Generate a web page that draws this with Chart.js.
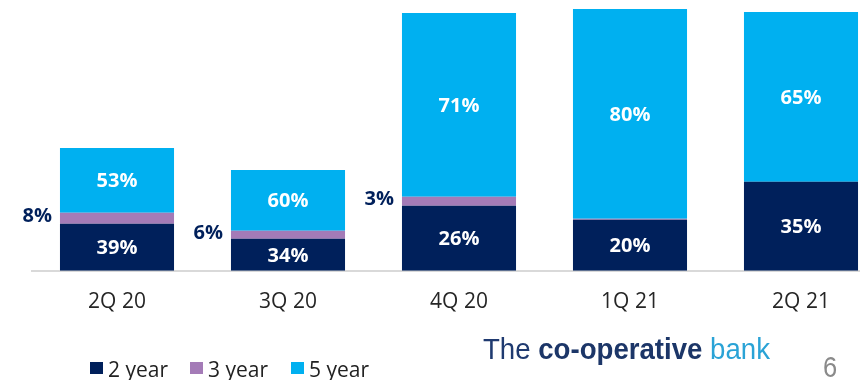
<!DOCTYPE html>
<html>
<head>
<meta charset="utf-8">
<script src="https://cdn.jsdelivr.net/npm/chart.js@4"></script>
<style>
  html, body { margin: 0; padding: 0; background: #fff; overflow: hidden; }
  #wrap { position: relative; width: 860px; height: 380px; overflow: hidden; }
  #chart { position: absolute; left: 0; top: 0; }
</style>
</head>
<body>
<div id="wrap">
  <canvas id="chart" width="900" height="380" style="width:900px;height:380px"></canvas>
</div>
<script>
// quarters along the bottom
const quarters = ["2Q 20", "3Q 20", "4Q 20", "1Q 21", "2Q 21"];

// segment sizes (same units for all bars)
const twoYear = [47, 32, 65, 51, 89];
const threeYear = [11, 8, 9, 1, 0];
const fiveYear = [65, 61, 184, 210, 170];

// share labels printed on the bars
const twoYearLabels = ["39%", "34%", "26%", "20%", "35%"];
const threeYearLabels = ["8%", "6%", "3%", "", ""];
const fiveYearLabels = ["53%", "60%", "71%", "80%", "65%"];

const NAVY = "#00205B";
const PURPLE = "#A47BB7";
const CYAN = "#00B0F0";

// labels inside bars (white) and the 3 year share outside on the left
const barLabels = {
    id: "barLabels",
    afterDatasetsDraw(chart) {
        const ctx = chart.ctx;
        ctx.save();
        ctx.font = 'bold 20px "Open Sans", sans-serif';
        ctx.textBaseline = "middle";
        chart.data.datasets.forEach(function (ds, di) {
            const meta = chart.getDatasetMeta(di);
            meta.data.forEach(function (bar, i) {
                const txt = ds.shareLabels[i];
                if (!txt) return;
                const cy = (bar.y + bar.base) / 2;
                if (di === 1) {
                    ctx.fillStyle = NAVY;
                    ctx.textAlign = "right";
                    ctx.fillText(txt, bar.x - bar.width / 2 - 8, cy - 2);
                } else {
                    ctx.fillStyle = "#fff";
                    ctx.textAlign = "center";
                    ctx.fillText(txt, bar.x, cy + 1);
                }
            });
        });
        ctx.restore();
    }
};

// legend, logo and page number along the bottom edge
const footer = {
    id: "footer",
    afterDraw(chart) {
        const ctx = chart.ctx;
        ctx.save();
        ctx.textBaseline = "alphabetic";
        ctx.textAlign = "left";
        const legendX = [90, 190, 291];
        ctx.font = '21px "Open Sans", sans-serif';
        chart.data.datasets.forEach(function (ds, di) {
            ctx.fillStyle = ds.backgroundColor;
            ctx.fillRect(legendX[di], 362, 13, 12);
            ctx.fillStyle = "#222";
            ctx.fillText(ds.label, legendX[di] + 18, 377);
        });

        // logo text, squeezed to look like the condensed wordmark
        const fam = '"Liberation Sans", Arial, sans-serif';
        const parts = [
            { t: "The ", f: "27px " + fam, c: "#1F3A70" },
            { t: "co-operative", f: "bold 27px " + fam, c: "#1C3668" },
            { t: " bank", f: "27px " + fam, c: "#2AA3D6" }
        ];
        let total = 0;
        parts.forEach(function (p) { ctx.font = p.f; p.w = ctx.measureText(p.t).width; total += p.w; });
        const sx = 287 / total;
        ctx.translate(483, 359);
        ctx.scale(sx, 1.08);
        let x = 0;
        parts.forEach(function (p) {
            ctx.font = p.f;
            ctx.fillStyle = p.c;
            ctx.fillText(p.t, x, 0);
            x += p.w;
        });
        ctx.setTransform(1, 0, 0, 1, 0, 0);

        ctx.translate(823, 377);
        ctx.scale(0.85, 1);
        ctx.font = "30px " + fam;
        ctx.fillStyle = "#8A8A8A";
        ctx.fillText("6", 0, 0);
        ctx.restore();
    }
};

new Chart(document.getElementById("chart"), {
    type: "bar",
    data: {
        labels: quarters,
        datasets: [
            { label: "2 year", data: twoYear, backgroundColor: NAVY, shareLabels: twoYearLabels },
            { label: "3 year", data: threeYear, backgroundColor: PURPLE, shareLabels: threeYearLabels },
            { label: "5 year", data: fiveYear, backgroundColor: CYAN, shareLabels: fiveYearLabels }
        ]
    },
    options: {
        responsive: false,
        animation: false,
        events: [],
        layout: { padding: { left: 31.5, right: 13.5, top: 6, bottom: 46 } },
        datasets: { bar: { barPercentage: 1, categoryPercentage: 0.667, borderWidth: 0 } },
        plugins: { legend: { display: false }, tooltip: { enabled: false } },
        scales: {
            x: {
                stacked: true,
                grid: { display: false, drawTicks: false },
                border: { display: true, color: "#D9D9D9", width: 2 },
                ticks: { color: "#262626", padding: 19, font: { family: '"Open Sans", sans-serif', size: 21 } }
            },
            y: {
                stacked: true,
                display: false,
                min: 0,
                max: 265
            }
        }
    },
    plugins: [barLabels, footer]
});
</script>
</body>
</html>
